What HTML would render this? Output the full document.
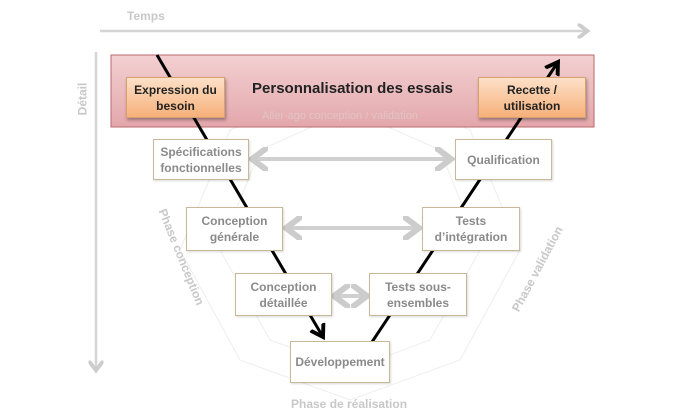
<!DOCTYPE html>
<html><head><meta charset="utf-8"><style>
body{margin:0;width:700px;height:416px;background:#fff;position:relative;overflow:hidden;font-family:"Liberation Sans",sans-serif}
.b{position:absolute;box-sizing:border-box;border:1px solid #c8b898;background:#fff;color:#8a8a8a;font-weight:bold;font-size:12px;line-height:16px;display:flex;align-items:center;justify-content:center;text-align:center;box-shadow:1px 1px 2px rgba(0,0,0,.15)}
.o{border:1px solid #d8a070;background:linear-gradient(#fde0c8,#f6b07a);color:#222;box-shadow:1px 2px 3px rgba(0,0,0,.35)}
.t{position:absolute;color:#c8c8c8;font-size:12px;font-weight:bold;white-space:nowrap}
</style></head><body>
<svg width="700" height="416" style="position:absolute;left:0;top:0">
<defs>
<marker id="ga" markerWidth="6" markerHeight="6" refX="3" refY="3" orient="auto-start-reverse"><path d="M0,0 L4,3 L0,6" fill="none" stroke="#ccc" stroke-width="1.5"/></marker>
<marker id="ka" markerWidth="6" markerHeight="6" refX="4" refY="3" orient="auto"><path d="M0,0.5 L4,3 L0,5.5" fill="none" stroke="#000" stroke-width="1.3"/></marker>
<linearGradient id="pk" x1="0" y1="0" x2="0" y2="1"><stop offset="0" stop-color="#f3d0d2"/><stop offset="1" stop-color="#e3a7ab"/></linearGradient>
</defs>
<g stroke="#eee" fill="none" stroke-width="1">
<polygon points="350,80 470,130 520,250 460,360 350,400 240,360 180,250 230,130"/>
<polygon points="350,110 440,150 480,250 430,340 350,370 270,340 220,250 260,150"/>
</g>
<line x1="100" y1="31" x2="585" y2="31" stroke="#d4d4d4" stroke-width="2.5" marker-end="url(#ga)"/>
<line x1="96" y1="52" x2="96" y2="368" stroke="#d4d4d4" stroke-width="2.5" marker-end="url(#ga)"/>
<rect x="111" y="55" width="483" height="72" fill="url(#pk)" stroke="#b86a6e" stroke-width="1"/>
<line x1="157" y1="55" x2="323" y2="337" stroke="#000" stroke-width="3" marker-end="url(#ka)"/>
<line x1="372" y1="342" x2="558" y2="62" stroke="#000" stroke-width="3" marker-end="url(#ka)"/>
<g stroke="#d0d0d0" stroke-width="4" marker-start="url(#ga)" marker-end="url(#ga)">
<line x1="256" y1="159" x2="447" y2="159"/>
<line x1="290" y1="228" x2="415" y2="228"/>
<line x1="338" y1="296" x2="363" y2="296"/>
</g>
</svg>
<div class="t" style="left:127px;top:9px">Temps</div>
<div class="t" style="left:66px;top:92px;transform:rotate(-90deg)">Détail</div>
<div style="position:absolute;left:111px;top:80px;width:483px;text-align:center;font-size:15px;font-weight:bold;color:#222">Personnalisation des essais</div>
<div class="t" style="left:262px;top:110px;color:#e0c4c6;font-size:11px;font-weight:normal">Aller-ago conception / validation</div>
<div class="b o" style="left:126px;top:77px;width:99px;height:41px">Expression du<br>besoin</div>
<div class="b o" style="left:478px;top:77px;width:108px;height:41px">Recette /<br>utilisation</div>
<div class="b" style="left:153px;top:139px;width:96px;height:41px">Spécifications<br>fonctionnelles</div>
<div class="b" style="left:455px;top:139px;width:97px;height:41px">Qualification</div>
<div class="b" style="left:186px;top:207px;width:97px;height:44px">Conception<br>générale</div>
<div class="b" style="left:422px;top:207px;width:98px;height:44px">Tests<br>d’intégration</div>
<div class="b" style="left:235px;top:273px;width:97px;height:43px">Conception<br>détaillée</div>
<div class="b" style="left:369px;top:273px;width:98px;height:43px">Tests sous-<br>ensembles</div>
<div class="b" style="left:290px;top:341px;width:100px;height:42px">Développement</div>
<div class="t" style="left:291px;top:397px">Phase de réalisation</div>
<div class="t" style="left:130px;top:250px;transform:rotate(68deg)">Phase conception</div>
<div class="t" style="left:490px;top:262px;transform:rotate(-62deg)">Phase validation</div>
</body></html>
